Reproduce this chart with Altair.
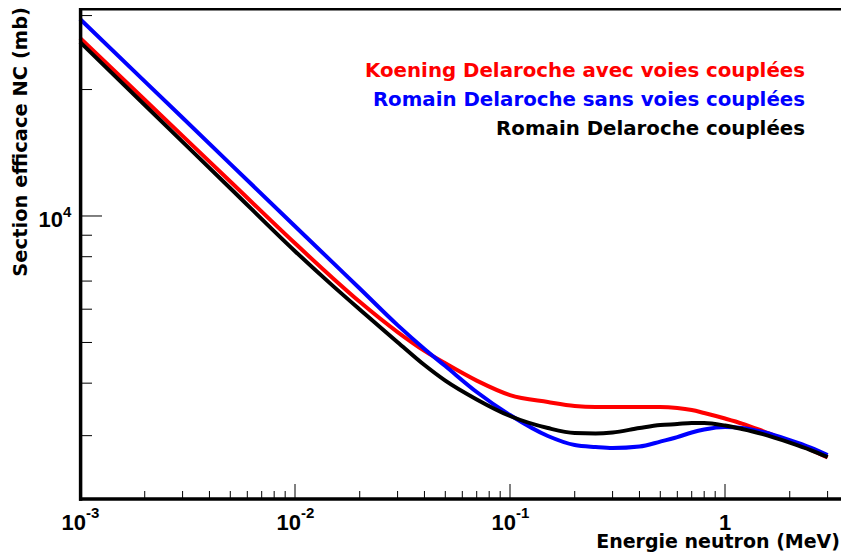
import altair as alt
import pandas as pd

# ---------------- data ----------------
energy = [0.001, 0.002, 0.005, 0.01, 0.015, 0.02, 0.03, 0.04, 0.05, 0.07, 0.1, 0.15,
          0.2, 0.25, 0.3, 0.4, 0.5, 0.6, 0.7, 0.8, 1.0, 1.2, 1.5, 2.0, 2.5, 3.0]
koening_couplees = [26540, 18913, 12082, 8610, 7112, 6248, 5293, 4775, 4460, 4057, 3748, 3607,
                    3529, 3510, 3510, 3510, 3510, 3491, 3452, 3396, 3295, 3206, 3076, 2904, 2780, 2661]
romain_sans = [29450, 20920, 13310, 9456, 7743, 6721, 5498, 4825, 4393, 3811, 3359, 2994,
               2849, 2818, 2803, 2826, 2904, 2977, 3052, 3102, 3145, 3128, 3060, 2928, 2811, 2698]
romain_couplees = [25960, 18380, 11646, 8246, 6818, 5990, 5008, 4418, 4056, 3659, 3341, 3128,
                   3043, 3035, 3052, 3128, 3180, 3197, 3215, 3215, 3171, 3111, 3026, 2888, 2773, 2668]

series_names = ["Koening Delaroche avec voies couplées",
                "Romain Delaroche sans voies couplées",
                "Romain Delaroche couplées"]
series_values = [koening_couplees, romain_sans, romain_couplees]
series_colors = ["#ff0000", "#0000ff", "#000000"]

x_major = [0.001, 0.01, 0.1, 1.0]
x_minor = [0.002, 0.003, 0.004, 0.005, 0.006, 0.007, 0.008, 0.009,
           0.02, 0.03, 0.04, 0.05, 0.06, 0.07, 0.08, 0.09,
           0.2, 0.3, 0.4, 0.5, 0.6, 0.7, 0.8, 0.9, 2.0, 3.0]
x_label_pos = [0.001, 0.01, 0.1]
x_label_base = ["10", "10", "10"]
x_label_exp = ["-3", "-2", "-1"]
y_major = [10000]
y_minor = [3000, 4000, 5000, 6000, 7000, 8000, 9000, 20000, 30000]

x_title = "Energie neutron (MeV)"
y_title = "Section efficace NC (mb)"

# ---------------- layout ----------------
W, H = 761, 491
LABEL_FONT = "Liberation Sans, Arial, Helvetica, sans-serif"
TEXT_FONT = "DejaVu Sans, Liberation Sans, Arial, sans-serif"
xscale = alt.Scale(type="log", domain=[0.001, 3.463], nice=False)
yscale = alt.Scale(type="log", domain=[2120, 31270], nice=False)

one = pd.DataFrame({"a": [0]})
layers = []

# curves: red, blue, then black on top
for name, vals, col in zip(series_names, series_values, series_colors):
    df = pd.DataFrame({"energie": energy, "sigma": vals, "serie": name})
    layers.append(
        alt.Chart(df).mark_line(color=col, strokeWidth=4, interpolate="monotone").encode(
            x=alt.X("energie:Q", scale=xscale, axis=None),
            y=alt.Y("sigma:Q", scale=yscale, axis=None),
        )
    )

# frame
layers.append(alt.Chart(one).mark_rule(color="black", strokeWidth=3.5).encode(
    x=alt.value(0.6), y=alt.value(0), y2=alt.value(H + 1.7)))
layers.append(alt.Chart(one).mark_rule(color="black", strokeWidth=3.4).encode(
    x=alt.value(-1), x2=alt.value(W), y=alt.value(H)))
layers.append(alt.Chart(one).mark_rule(color="black", strokeWidth=2.6).encode(
    x=alt.value(-1), x2=alt.value(W), y=alt.value(1.2)))

# x ticks (inside)
layers.append(alt.Chart(pd.DataFrame({"v": x_minor})).mark_rule(color="black", strokeWidth=1).encode(
    x=alt.X("v:Q", scale=xscale, axis=None), y=alt.value(H), y2=alt.value(H - 8)))
layers.append(alt.Chart(pd.DataFrame({"v": x_major})).mark_rule(color="black", strokeWidth=1).encode(
    x=alt.X("v:Q", scale=xscale, axis=None), y=alt.value(H), y2=alt.value(H - 15)))
# y ticks (inside)
layers.append(alt.Chart(pd.DataFrame({"v": y_minor})).mark_rule(color="black", strokeWidth=1).encode(
    y=alt.Y("v:Q", scale=yscale, axis=None), x=alt.value(0), x2=alt.value(12)))
layers.append(alt.Chart(pd.DataFrame({"v": y_major})).mark_rule(color="black", strokeWidth=1).encode(
    y=alt.Y("v:Q", scale=yscale, axis=None), x=alt.value(0), x2=alt.value(22)))

# x tick labels
xl = pd.DataFrame({"v": x_label_pos, "base": x_label_base, "exp": x_label_exp})
layers.append(alt.Chart(xl).mark_text(align="right", baseline="alphabetic", dx=6, fontSize=22,
                                      fontWeight="bold", font=LABEL_FONT, color="black").encode(
    x=alt.X("v:Q", scale=xscale, axis=None), y=alt.value(522), text="base:N"))
layers.append(alt.Chart(xl).mark_text(align="left", baseline="alphabetic", dx=6, fontSize=15,
                                      fontWeight="bold", font=LABEL_FONT, color="black").encode(
    x=alt.X("v:Q", scale=xscale, axis=None), y=alt.value(510), text="exp:N"))
layers.append(alt.Chart(pd.DataFrame({"v": [1.0], "t": ["1"]})).mark_text(
    align="center", baseline="alphabetic", fontSize=22, fontWeight="bold", font=LABEL_FONT,
    color="black").encode(
    x=alt.X("v:Q", scale=xscale, axis=None), y=alt.value(522), text="t:N"))

# y tick label 10^4
yl = pd.DataFrame({"v": y_major, "base": ["10"], "exp": ["4"]})
layers.append(alt.Chart(yl).mark_text(align="right", baseline="alphabetic", dy=11, fontSize=22,
                                      fontWeight="bold", font=LABEL_FONT, color="black").encode(
    y=alt.Y("v:Q", scale=yscale, axis=None), x=alt.value(-17), text="base:N"))
layers.append(alt.Chart(yl).mark_text(align="left", baseline="alphabetic", dy=1, fontSize=15,
                                      fontWeight="bold", font=LABEL_FONT, color="black").encode(
    y=alt.Y("v:Q", scale=yscale, axis=None), x=alt.value(-17), text="exp:N"))

# axis titles
layers.append(alt.Chart(pd.DataFrame({"t": [x_title]})).mark_text(
    align="right", baseline="alphabetic", fontSize=19, fontWeight="bold", font=TEXT_FONT,
    color="black").encode(
    x=alt.value(760), y=alt.value(540), text="t:N"))
layers.append(alt.Chart(pd.DataFrame({"t": [y_title]})).mark_text(
    align="right", baseline="alphabetic", angle=270, fontSize=19.5, fontWeight="bold",
    font=TEXT_FONT, color="black").encode(
    x=alt.value(-53), y=alt.value(-1), text="t:N"))

# legend texts
legend_y = [69, 98, 127]
for name, col, yy in zip(series_names, series_colors, legend_y):
    layers.append(alt.Chart(pd.DataFrame({"t": [name]})).mark_text(
        align="right", baseline="alphabetic", fontSize=19.8, fontWeight="bold", font=TEXT_FONT,
        color=col).encode(
        x=alt.value(725), y=alt.value(yy), text="t:N"))

chart = alt.layer(*layers).properties(
    width=W, height=H,
    autosize=alt.AutoSizeParams(type="none"),
    padding={"left": 72, "top": 0, "right": 0, "bottom": 53},
    background="white",
).configure_view(stroke=None)

chart.save("out.html", embed_options={"renderer": "svg", "actions": False})
